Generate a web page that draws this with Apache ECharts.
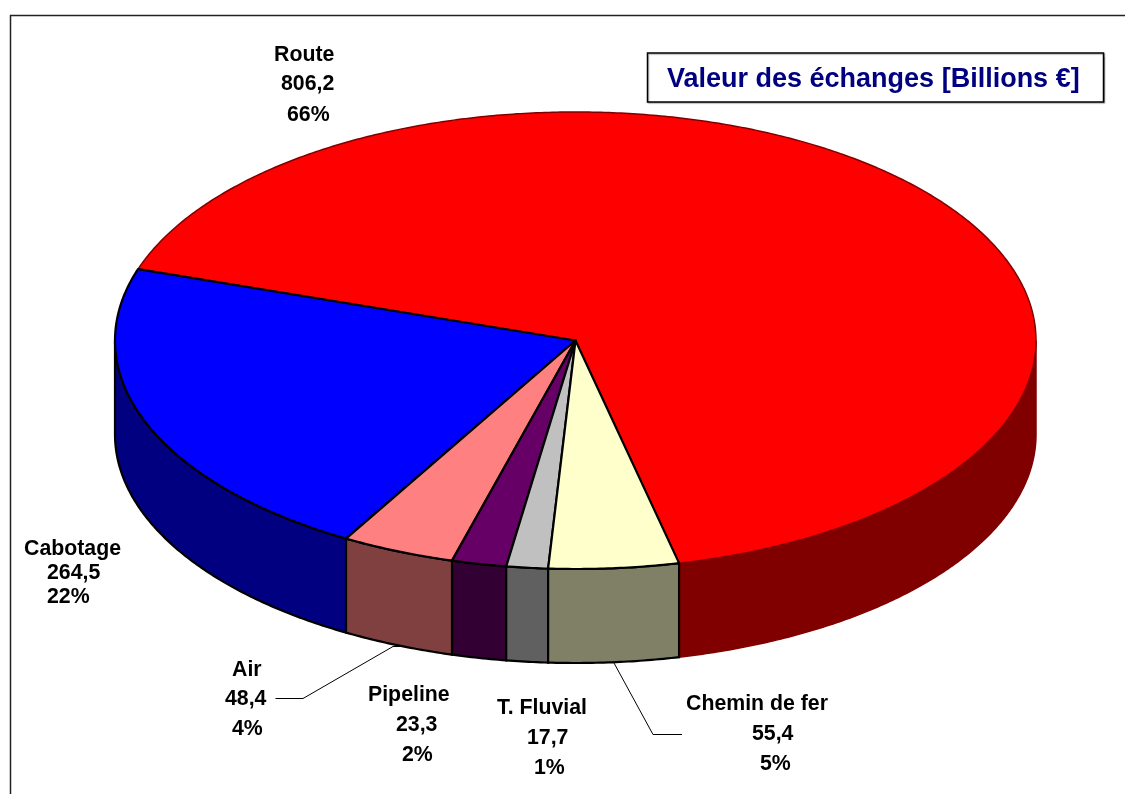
<!DOCTYPE html>
<html><head><meta charset="utf-8">
<style>html,body{margin:0;padding:0;background:#fff}#c{width:1125px;height:794px}</style>
<script src="https://cdn.jsdelivr.net/npm/echarts@6/dist/echarts.min.js"></script>
</head><body><div id="c"></div>
<script>
// ---- data ----
const categories = ['Route', 'Cabotage', 'Air', 'Pipeline', 'T. Fluvial', 'Chemin de fer'];
const values = [806.2, 264.5, 48.4, 23.3, 17.7, 55.4];
const chartTitle = 'Valeur des échanges [Billions €]';
// ---- styles ----
const topColors = ['#FF0000', '#0000FF', '#FF8080', '#660066', '#C0C0C0', '#FFFFCC'];
const sideColors = ['#800000', '#000080', '#804040', '#330033', '#606060', '#808066'];
// ---- layout ----
const CX = 575.5, CY = 340.5, RX = 460.5, RY = 228.5, DEPTH = 94, START_DEG = 77.0;
const FONT = "bold 21.3px 'Liberation Sans', Arial, sans-serif";
// left x of each label line, and y centre of each line
const labelLayout = [
  {x: [274, 281, 287], y: [55, 84, 115]},
  {x: [24, 47, 47], y: [549, 573, 597]},
  {x: [232, 225, 232], y: [670, 699, 729]},
  {x: [368, 396, 402], y: [695, 725, 755]},
  {x: [497, 527, 534], y: [708, 738, 768]},
  {x: [686, 752, 760], y: [704, 734, 764]}
];
const leaders = {
  2: [[275.5, 698.5], [303, 698.5], [393, 646.5], [402, 646.5]],
  5: [[614, 663], [653, 734.5], [682, 734.5]]
};

const total = values.reduce((a, b) => a + b, 0);
function sliceRange(i) {
  let before = 0;
  for (let k = 0; k < i; k++) before += values[k];
  const from = START_DEG - before / total * 360;
  const to = from - values[i] / total * 360;
  return [to, from]; // lower / upper angle in degrees (screen clockwise from +x)
}
function pt(deg, dy) {
  const a = deg * Math.PI / 180;
  return [CX + RX * Math.cos(a), CY + RY * Math.sin(a) + (dy || 0)];
}
function arc(a, b, dy) {
  const out = [], n = Math.max(2, Math.ceil((b - a) / 0.5));
  for (let k = 0; k <= n; k++) out.push(pt(a + (b - a) * k / n, dy));
  return out;
}
function sideRanges(lo, hi) {
  const res = [];
  for (let base = -720; base <= 360; base += 360) {
    const a = Math.max(lo, base), b = Math.min(hi, base + 180);
    if (b > a) res.push([a, b]);
  }
  return res;
}
const rows = values.map((v, i) => [i, v]);
const strokeOf = i => i === 0 ? {stroke: '#800000', lineWidth: 1.5} : {stroke: '#000', lineWidth: 2.2};

const option = {
  animation: false,
  backgroundColor: '#fff',
  title: {
    text: chartTitle, left: 667, top: 66,
    padding: 0,
    textStyle: {fontFamily: "'Liberation Sans', Arial, sans-serif", fontWeight: 'bold', fontSize: 27, color: '#000080'}
  },
  graphic: [
    {type: 'polyline', silent: true, z: 0, shape: {points: [[1125, 15.5], [10.5, 15.5], [10.5, 794]]}, style: {fill: 'none', stroke: '#222', lineWidth: 1.5}},
    {type: 'rect', silent: true, z: 0, shape: {x: 647.5, y: 53, width: 456, height: 49}, style: {fill: '#fff', stroke: '#000', lineWidth: 1.5, shadowColor: 'rgba(0,0,0,0.3)', shadowOffsetX: 1, shadowOffsetY: 1, shadowBlur: 1}}
  ],
  series: [
    {
      type: 'custom', z: 2, silent: true, coordinateSystem: 'none', data: rows, clip: false,
      renderItem(params, api) {
        const i = api.value(0), [lo, hi] = sliceRange(i);
        const children = sideRanges(lo, hi).map(([a, b]) => ({
          type: 'polygon',
          shape: {points: arc(a, b, 0).concat(arc(a, b, DEPTH).reverse())},
          style: Object.assign({fill: sideColors[i]}, strokeOf(i))
        }));
        return {type: 'group', children};
      }
    },
    {
      type: 'custom', z: 3, silent: true, coordinateSystem: 'none', data: rows, clip: false,
      renderItem(params, api) {
        const i = api.value(0), [lo, hi] = sliceRange(i);
        return {
          type: 'polygon',
          shape: {points: [[CX, CY]].concat(arc(lo, hi, 0))},
          style: Object.assign({fill: topColors[i], lineJoin: 'round'}, strokeOf(i))
        };
      }
    },
    {
      type: 'custom', z: 4, silent: true, coordinateSystem: 'none', data: rows, clip: false,
      renderItem(params, api) {
        const i = api.value(0), v = api.value(1), L = labelLayout[i];
        const lines = [categories[i], String(v).replace('.', ','), Math.round(v / total * 100) + '%'];
        const children = lines.map((t, k) => ({
          type: 'text',
          style: {text: t, x: L.x[k], y: L.y[k], font: FONT, fill: '#000', align: 'left', verticalAlign: 'middle'}
        }));
        if (leaders[i]) children.push({
          type: 'polyline', shape: {points: leaders[i]}, style: {fill: 'none', stroke: '#000', lineWidth: 1}
        });
        return {type: 'group', children};
      }
    }
  ]
};
echarts.init(document.getElementById('c'), null, {renderer: 'canvas'}).setOption(option);
</script></body></html>
